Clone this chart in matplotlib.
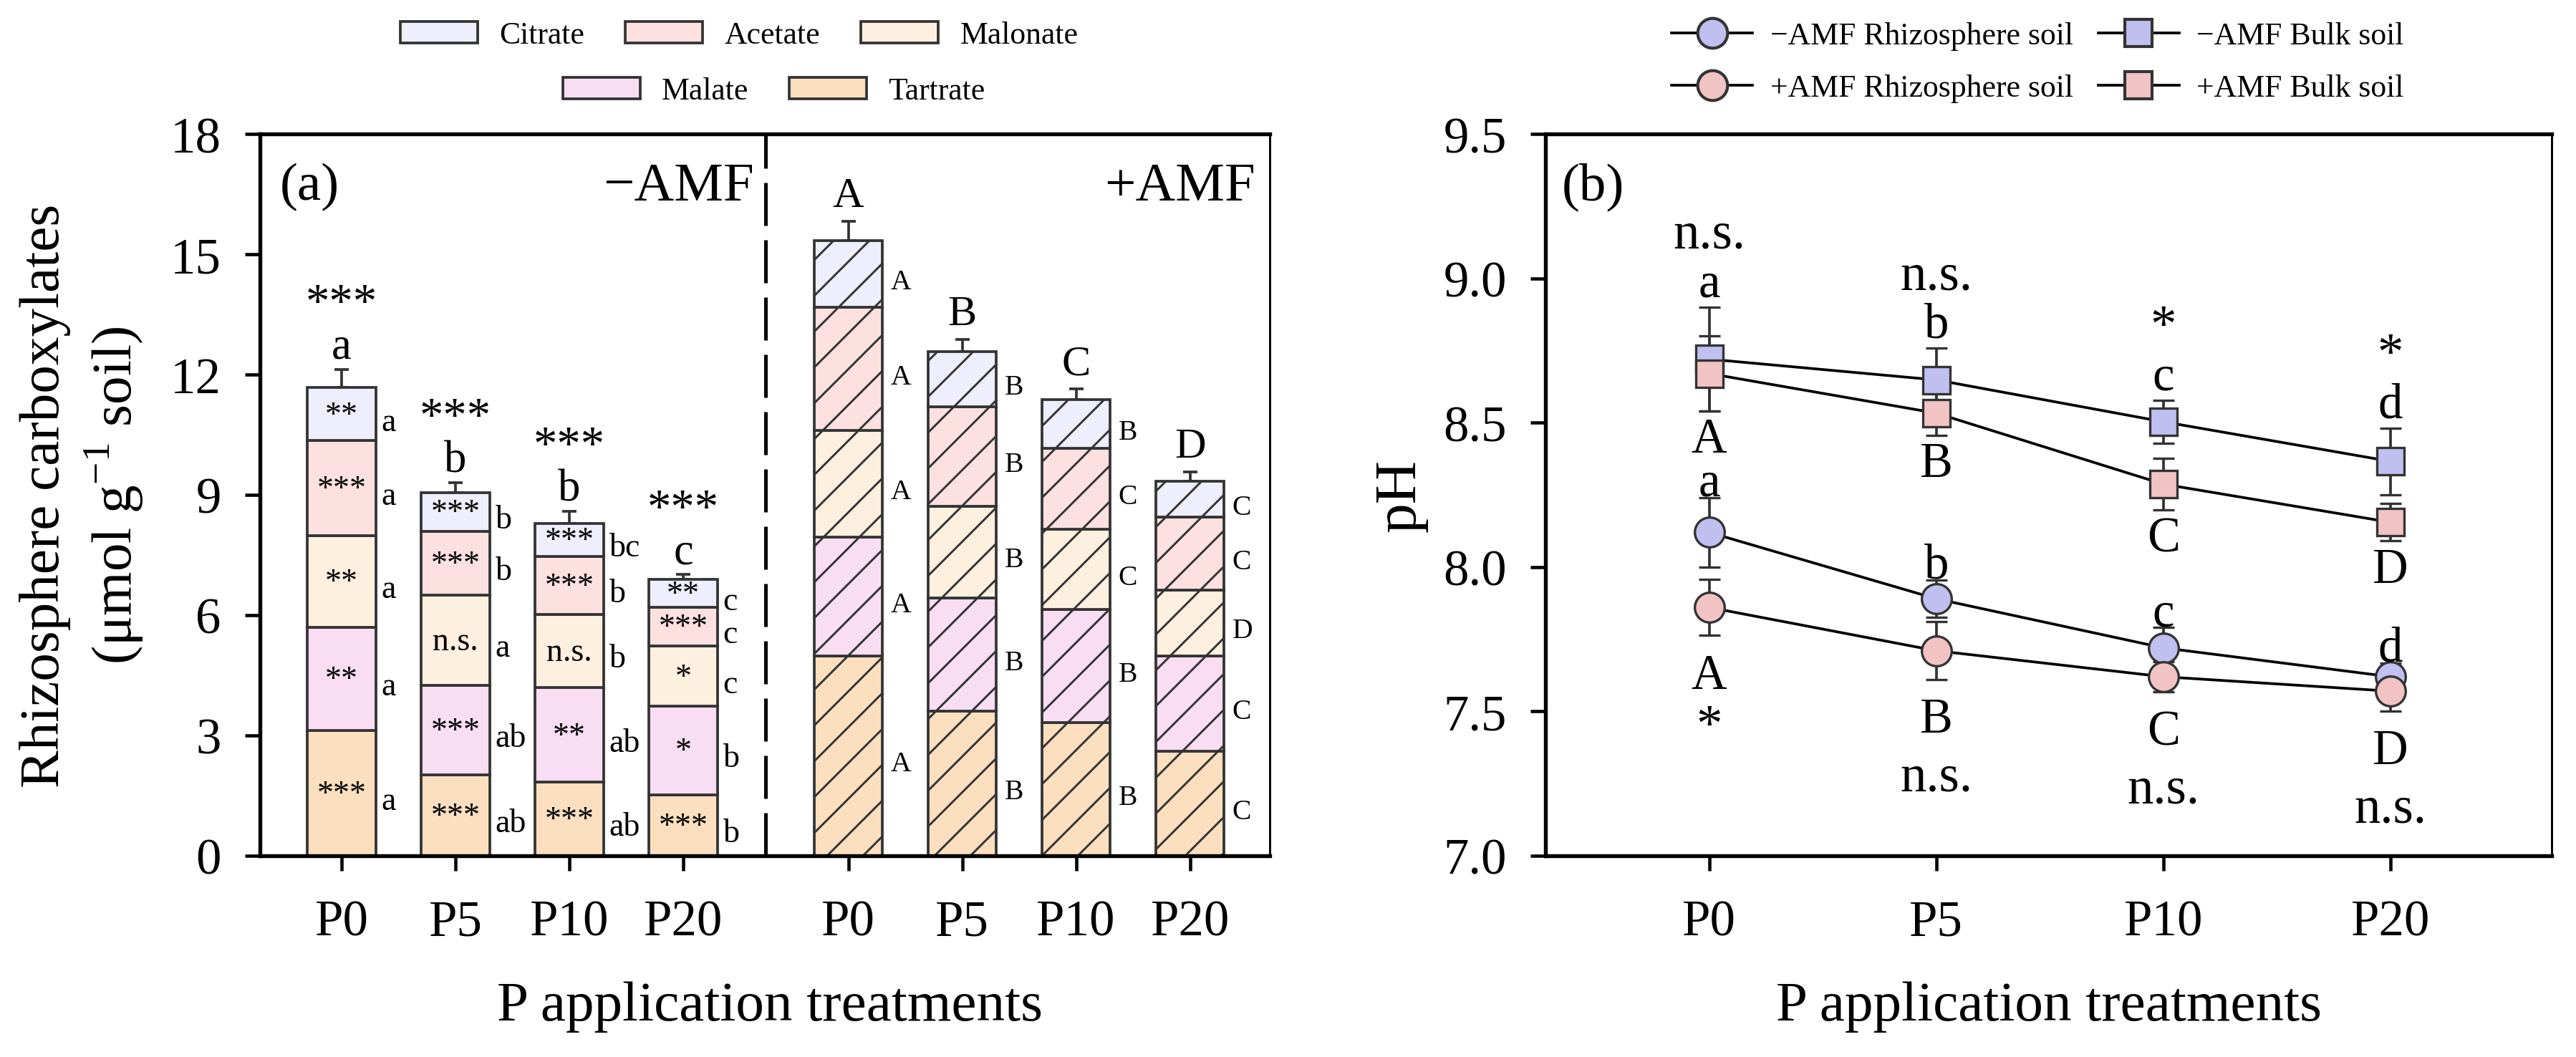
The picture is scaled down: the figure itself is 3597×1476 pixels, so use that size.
import matplotlib
matplotlib.use('Agg')
import matplotlib.pyplot as plt
from matplotlib.patches import Patch
from matplotlib.lines import Line2D
from matplotlib.ticker import FormatStrFormatter
import numpy as np

plt.rcParams['font.family'] = ['Liberation Serif', 'DejaVu Serif']
plt.rcParams['mathtext.fontset'] = 'custom'
plt.rcParams['mathtext.rm'] = 'Liberation Serif'
plt.rcParams['hatch.linewidth'] = 0.7

# ---------------- data: panel (a) ----------------
treatments = ['P0', 'P5', 'P10', 'P20']
acids = ['Tartrate', 'Malate', 'Malonate', 'Acetate', 'Citrate']   # stacked bottom -> top

tartrate_noamf = [3.12, 2.01, 1.83, 1.52]
malate_noamf = [2.58, 2.24, 2.37, 2.21]
malonate_noamf = [2.28, 2.25, 1.82, 1.50]
acetate_noamf = [2.37, 1.59, 1.45, 0.97]
citrate_noamf = [1.32, 0.97, 0.82, 0.69]
total_err_noamf = [0.46, 0.24, 0.29, 0.13]

tartrate_amf = [4.99, 3.60, 3.32, 2.60]
malate_amf = [2.95, 2.83, 2.82, 2.39]
malonate_amf = [2.67, 2.29, 2.00, 1.64]
acetate_amf = [3.06, 2.48, 2.02, 1.81]
citrate_amf = [1.67, 1.37, 1.21, 0.90]
total_err_amf = [0.49, 0.31, 0.27, 0.23]

# AMF effect inside the -AMF segments
sig_tartrate = ['***', '***', '***', '***']
sig_malate = ['**', '***', '**', '*']
sig_malonate = ['**', 'n.s.', 'n.s.', '*']
sig_acetate = ['***', '***', '***', '***']
sig_citrate = ['**', '***', '***', '**']
sig_total = ['***', '***', '***', '***']

# letters next to the segments
let_tartrate_noamf = ['a', 'ab', 'ab', 'b']
let_malate_noamf = ['a', 'ab', 'ab', 'b']
let_malonate_noamf = ['a', 'a', 'b', 'c']
let_acetate_noamf = ['a', 'b', 'b', 'c']
let_citrate_noamf = ['a', 'b', 'bc', 'c']
let_total_noamf = ['a', 'b', 'b', 'c']

let_tartrate_amf = ['A', 'B', 'B', 'C']
let_malate_amf = ['A', 'B', 'B', 'C']
let_malonate_amf = ['A', 'B', 'C', 'D']
let_acetate_amf = ['A', 'B', 'C', 'C']
let_citrate_amf = ['A', 'B', 'B', 'C']
let_total_amf = ['A', 'B', 'C', 'D']

# ---------------- data: panel (b) ----------------
rhizo_noamf = [8.12, 7.89, 7.72, 7.62]
rhizo_noamf_err = [0.12, 0.065, 0.07, 0.047]
rhizo_amf = [7.86, 7.71, 7.62, 7.57]
rhizo_amf_err = [0.097, 0.10, 0.052, 0.069]
bulk_noamf = [8.72, 8.648, 8.503, 8.366]
bulk_noamf_err = [0.18, 0.11, 0.075, 0.115]
bulk_amf = [8.67, 8.533, 8.287, 8.155]
bulk_amf_err = [0.13, 0.077, 0.09, 0.065]

sig_bulk = ['n.s.', 'n.s.', '*', '*']
let_bulk_noamf = ['a', 'b', 'c', 'd']
let_bulk_amf = ['A', 'B', 'C', 'D']
let_rhizo_noamf = ['a', 'b', 'c', 'd']
let_rhizo_amf = ['A', 'B', 'C', 'D']
sig_rhizo = ['*', 'n.s.', 'n.s.', 'n.s.']

# ---------------- styles ----------------
acid_colours = ['#FBDFBF', '#F8DDF3', '#FEF0DF', '#FDE0E0', '#EEEEFC']
blue = '#BFC0EF'
pink = '#F2C3C3'
edge = '#333333'

fig = plt.figure(figsize=(3597 / 300, 1477 / 300))
ax = fig.add_axes([0.1009, 0.1903, 0.3920, 0.6824])
ax2 = fig.add_axes([0.600, 0.1903, 0.3906, 0.6824])

# ---------------- panel (a): stacked bars ----------------
x_noamf = np.arange(4)
x_amf = np.arange(4) + 4.45
width = 0.6

noamf_stack = [tartrate_noamf, malate_noamf, malonate_noamf, acetate_noamf, citrate_noamf]
amf_stack = [tartrate_amf, malate_amf, malonate_amf, acetate_amf, citrate_amf]
noamf_sigs = [sig_tartrate, sig_malate, sig_malonate, sig_acetate, sig_citrate]
noamf_lets = [let_tartrate_noamf, let_malate_noamf, let_malonate_noamf, let_acetate_noamf, let_citrate_noamf]
amf_lets = [let_tartrate_amf, let_malate_amf, let_malonate_amf, let_acetate_amf, let_citrate_amf]

bottom = np.zeros(4)
for vals, col, sigs, lets in zip(noamf_stack, acid_colours, noamf_sigs, noamf_lets):
    vals = np.array(vals)
    ax.bar(x_noamf, vals, width=width, bottom=bottom, color=col,
           edgecolor=edge, linewidth=0.9, zorder=2)
    mids = bottom + vals / 2
    for xi, m, s, l in zip(x_noamf, mids, sigs, lets):
        ax.text(xi, m - 0.04, s, ha='center', va='center', fontsize=11, zorder=3)
        ax.text(xi + 0.35, m - 0.2, l, ha='left', va='center', fontsize=11)
    bottom = bottom + vals
total_noamf = bottom.copy()

bottom = np.zeros(4)
for vals, col, lets in zip(amf_stack, acid_colours, amf_lets):
    vals = np.array(vals)
    ax.bar(x_amf, vals, width=width, bottom=bottom, color=col,
           edgecolor=edge, linewidth=0.9, hatch='//', zorder=2)
    mids = bottom + vals / 2
    for xi, m, l in zip(x_amf, mids, lets):
        ax.text(xi + 0.37, m - 0.2, l, ha='left', va='center', fontsize=9.5)
    bottom = bottom + vals
total_amf = bottom.copy()

# upper error bars on the totals
for xs, tot, err in [(x_noamf, total_noamf, total_err_noamf), (x_amf, total_amf, total_err_amf)]:
    ax.errorbar(xs, tot, yerr=[np.zeros(4), err], fmt='none', ecolor=edge,
                elinewidth=0.9, capsize=2.3, capthick=0.9, zorder=1)

for xi, tot, err, l, s in zip(x_noamf, total_noamf, total_err_noamf, let_total_noamf, sig_total):
    ax.text(xi, tot + err + 0.55, l, ha='center', va='center', fontsize=15)
    ax.text(xi, tot + err + 1.62, s, ha='center', va='center', fontsize=16)
for xi, tot, err, l in zip(x_amf, total_amf, total_err_amf, let_total_amf):
    ax.text(xi, tot + err + 0.62, l, ha='center', va='center', fontsize=14.5)

ax.axvline(3.72, color='black', lw=1.2, linestyle=(0, (12, 4)), zorder=1)
ax.text(0.02, 0.927, '(a)', transform=ax.transAxes, ha='left', va='center', fontsize=18)
ax.text(0.489, 0.927, '\u2212AMF', transform=ax.transAxes, ha='right', va='center', fontsize=18.5)
ax.text(0.986, 0.927, '+AMF', transform=ax.transAxes, ha='right', va='center', fontsize=18.5)

ax.set_xlim(-0.717, 8.15)
ax.set_ylim(0, 18)
ax.set_yticks(np.arange(0, 19, 3))
ax.set_xticks(np.concatenate([x_noamf, x_amf]))
ax.set_xticklabels(treatments + treatments)
ax.set_ylabel('Rhizosphere carboxylates\n(\u03bcmol g$^{\u22121}$ soil)', fontsize=19,
              va='center', linespacing=1.25)
ax.yaxis.set_label_coords(-0.176, 0.5)
ax.set_xlabel('P application treatments', fontsize=19, va='center')
ax.xaxis.set_label_coords(0.505, -0.209)

# ---------------- panel (b): pH lines ----------------
xp = np.arange(4)
series = [
    (bulk_noamf, bulk_noamf_err, 's', blue, 9),
    (rhizo_noamf, rhizo_noamf_err, 'o', blue, 10),
    (bulk_amf, bulk_amf_err, 's', pink, 9),
    (rhizo_amf, rhizo_amf_err, 'o', pink, 10),
]
for vals, err, mk, col, ms in series:
    ax2.errorbar(xp, vals, yerr=err, fmt='-' + mk, color='black', lw=0.9, ms=ms,
                 mfc=col, mec=edge, mew=0.8, ecolor=edge, elinewidth=0.9,
                 capsize=3.7, capthick=0.9)

for i in range(4):
    top_b = bulk_noamf[i] + bulk_noamf_err[i]
    ax2.text(xp[i], top_b + 0.08, let_bulk_noamf[i], ha='center', va='center', fontsize=16.5)
    ax2.text(xp[i], top_b + 0.25, sig_bulk[i], ha='center', va='center', fontsize=17.5)
    ax2.text(xp[i], bulk_amf[i] - bulk_amf_err[i] - 0.10, let_bulk_amf[i],
             ha='center', va='center', fontsize=16.5)
    ax2.text(xp[i], rhizo_noamf[i] + rhizo_noamf_err[i] + 0.05, let_rhizo_noamf[i],
             ha='center', va='center', fontsize=16.5)
    low_r = rhizo_amf[i] - rhizo_amf_err[i] - 0.14
    ax2.text(xp[i], low_r, let_rhizo_amf[i], ha='center', va='center', fontsize=16.5)
    ys = low_r - 0.2 + (0.02 if sig_rhizo[i] == '*' else 0)
    ax2.text(xp[i], ys, sig_rhizo[i], ha='center', va='center', fontsize=17.5)

ax2.text(0.016, 0.927, '(b)', transform=ax2.transAxes, ha='left', va='center', fontsize=18)
ax2.set_xlim(-0.72, 3.71)
ax2.set_ylim(7.0, 9.5)
ax2.set_yticks(np.arange(7.0, 9.51, 0.5))
ax2.yaxis.set_major_formatter(FormatStrFormatter('%.1f'))
ax2.set_xticks(xp)
ax2.set_xticklabels(treatments)
ax2.set_ylabel('pH', fontsize=20, va='center')
ax2.yaxis.set_label_coords(-0.144, 0.5)
ax2.set_xlabel('P application treatments', fontsize=19, va='center')
ax2.xaxis.set_label_coords(0.5, -0.209)

# ---------------- shared axis styling ----------------
for a in (ax, ax2):
    for sp in ['left', 'bottom', 'top']:
        a.spines[sp].set_linewidth(1.3)
    a.spines['right'].set_linewidth(0.7)
    a.tick_params(axis='both', direction='out', length=5, width=1.1, labelsize=17,
                  top=False, right=False)
    a.tick_params(axis='x', pad=9.5)
    a.tick_params(axis='y', pad=8)

# ---------------- legends ----------------
handles = [Patch(facecolor=c, edgecolor=edge, linewidth=0.9, label=n)
           for c, n in zip(acid_colours, acids)]
by_name = dict(zip(acids, handles))
leg_kw = dict(frameon=False, fontsize=10.5, handlelength=2.47, handleheight=0.69,
              handletextpad=0.69, columnspacing=1.3, borderpad=0, borderaxespad=0)
row1 = [by_name['Citrate'], by_name['Acetate'], by_name['Malonate']]
row2 = [by_name['Malate'], by_name['Tartrate']]
fig.legend(handles=row1, ncol=3, loc='center', bbox_to_anchor=(0.287, 0.966), **leg_kw)
fig.legend(handles=row2, ncol=2, loc='center', bbox_to_anchor=(0.3005, 0.913), **leg_kw)

line_handles = [
    Line2D([0], [0], color='black', lw=0.9, marker='o', ms=10, mfc=blue, mec=edge,
           label='\u2212AMF Rhizosphere soil'),
    Line2D([0], [0], color='black', lw=0.9, marker='o', ms=10, mfc=pink, mec=edge,
           label='+AMF Rhizosphere soil'),
    Line2D([0], [0], color='black', lw=0.9, marker='s', ms=9, mfc=blue, mec=edge,
           label='\u2212AMF Bulk soil'),
    Line2D([0], [0], color='black', lw=0.9, marker='s', ms=9, mfc=pink, mec=edge,
           label='+AMF Bulk soil'),
]
fig.legend(handles=line_handles, ncol=2, loc='center', bbox_to_anchor=(0.791, 0.9405),
           frameon=False, fontsize=10.5, handlelength=2.6, handletextpad=0.55,
           columnspacing=0.8, labelspacing=0.75, borderpad=0, borderaxespad=0)

fig.savefig('out.png', dpi=300)
